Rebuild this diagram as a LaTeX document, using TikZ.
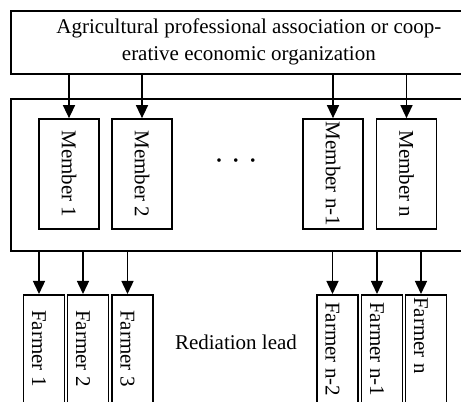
\documentclass[tikz,border=0pt]{standalone}
\usepackage{fontspec}
\setmainfont{Liberation Serif}
\usetikzlibrary{arrows.meta}
\tikzset{
  box/.style={draw, line width=1.7pt, inner sep=0pt},
  member/.style={box, rotate=-90, minimum width=110pt, minimum height=60pt},
  farmer/.style={box, anchor=north, minimum width=41pt, minimum height=130pt},
  vtext/.style={rotate=-90, anchor=west, inner sep=0pt},
  link/.style={line width=1.4pt, -{Triangle[length=13pt, width=12pt]}}
}

\begin{document}
\begin{tikzpicture}[x=1pt, y=1pt, font=\fontsize{21}{27}\selectfont]
\useasboundingbox (0,0) rectangle (461,402);
\clip (0,0) rectangle (461,402);

% association and the members
\node[box, anchor=north west, minimum width=476pt, minimum height=63pt, align=center] (org) at (10,392)
  {Agricultural professional association or coop-\\erative economic organization};
\node[box, anchor=north west, minimum width=476pt, minimum height=152pt] (coop) at (10,304) {};

\foreach \x/\lab/\name in {69/1/m1, 142/2/m2, 333/n-1/m3, 406.5/n/m4} {
  \node[member] (\name) at (\x,228) {Member \lab};
  \draw[link] (org.south -| \name.west) -- (\name.west);
}
\node[font=\fontsize{30}{30}\selectfont] (dots) at (236,237) {\textperiodcentered\hspace{7pt}\textperiodcentered\hspace{7pt}\textperiodcentered};

% farmers
\foreach \x/\lab/\off/\name in {44/1/16/f1, 88/2/16/f2, 132.5/3/16/f3, 337.5/n-2/8/f4, 382/n-1/8/f5, 426/n/3/f6} {
  \node[farmer] (\name) at (\x,108) {};
  \coordinate (t\name) at ([xshift=-5pt]\name.north);
  \draw[link] (coop.south -| t\name) -- (t\name);
  \node[vtext] at ([yshift=-\off]t\name) {Farmer \lab};
}
\node (lead) at (236,60) {Rediation lead};
\end{tikzpicture}
\end{document}
